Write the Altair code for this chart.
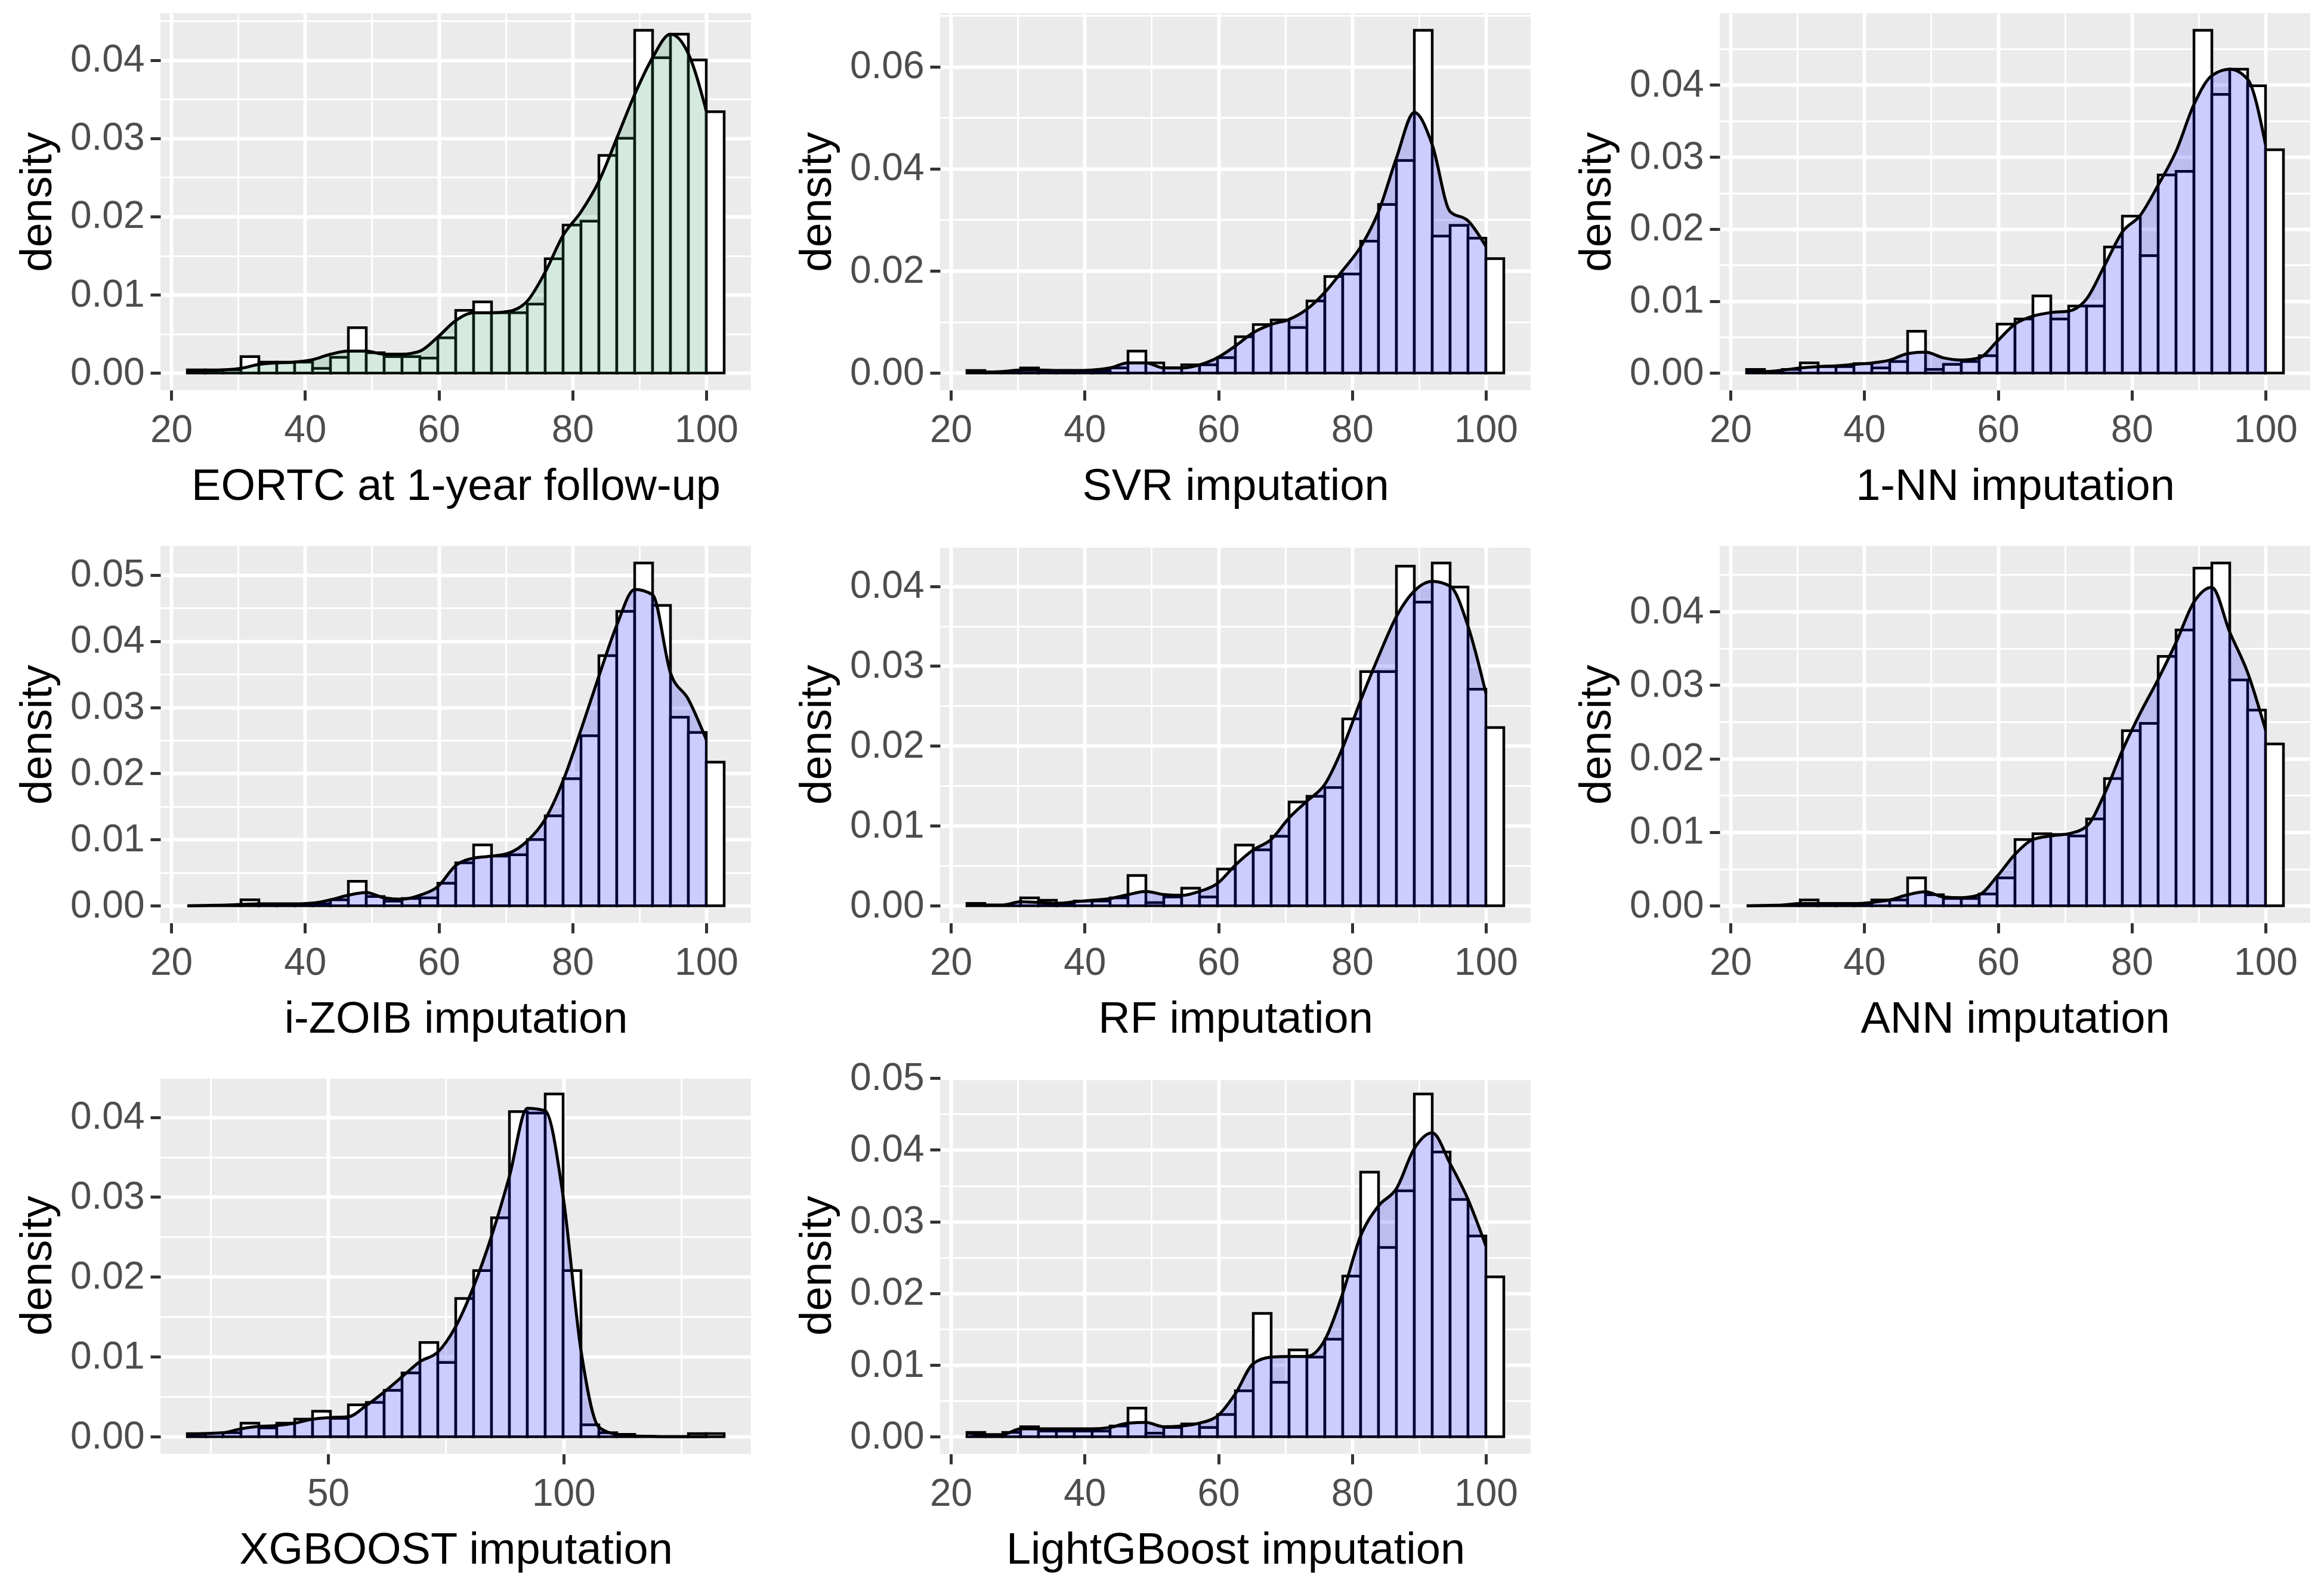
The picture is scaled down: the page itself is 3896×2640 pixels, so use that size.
import math
import altair as alt
import pandas as pd

FONT = "Liberation Sans"

# ---- data (density values in units of 0.001) ----
titles = [
    "EORTC at 1-year follow-up", "SVR imputation", "1-NN imputation",
    "i-ZOIB imputation", "RF imputation", "ANN imputation",
    "XGBOOST imputation", "LightGBoost imputation",
]

# histogram bin layout: first edge and bin width (30 bins each)
bin_lo = [22.4, 22.4, 22.4, 22.4, 22.4, 22.4, 20.1, 22.4]
bin_w = [2.676, 2.676, 2.676, 2.676, 2.676, 2.676, 3.8, 2.676]

bars_eortc = [0.4, 0.4, 0.4, 2.1, 1.4, 1.4, 1.4, 0.6, 2.0, 5.8, 2.6, 2.1, 2.1, 1.9, 4.5,
              8.0, 9.1, 7.7, 7.7, 8.8, 14.6, 18.9, 19.4, 27.8, 30.0, 43.8, 40.3, 43.3, 40.0, 33.4]
dens_eortc = [0.2, 0.3, 0.4, 0.6, 1.1, 1.3, 1.4, 1.7, 2.4, 2.8, 2.8, 2.4, 2.4, 2.8, 4.6,
              6.7, 7.7, 7.7, 7.9, 9.2, 12.9, 17.6, 20.6, 24.5, 30.0, 35.6, 40.3, 43.3, 40.8, 33.5]

bars_svr = [0.5, 0, 0.1, 1.0, 0.4, 0.4, 0.4, 0.4, 1.0, 4.3, 2.0, 1.0, 1.6, 1.6, 3.0,
            7.1, 9.5, 10.4, 8.9, 14.1, 18.9, 19.4, 25.8, 33.0, 41.6, 67.1, 26.8, 28.9, 26.4, 22.4]
dens_svr = [0.3, 0.2, 0.3, 0.6, 0.6, 0.5, 0.5, 0.6, 1.0, 2.0, 2.0, 1.0, 1.0, 1.6, 3.0,
            5.3, 7.9, 9.5, 10.5, 12.5, 15.8, 20.1, 24.7, 31.6, 42.1, 51.0, 44.7, 31.6, 29.8, 24.8]

bars_nn = [0.5, 0, 0.5, 1.4, 0.9, 0.9, 1.3, 0.7, 1.6, 5.8, 0.5, 1.2, 1.6, 2.4, 6.8,
           7.5, 10.7, 7.5, 9.3, 9.3, 17.5, 21.8, 16.3, 27.5, 28.0, 47.6, 38.7, 42.2, 39.9, 31.0]
dens_nn = [0.4, 0.2, 0.4, 0.7, 0.9, 1.0, 1.2, 1.4, 1.8, 2.7, 2.9, 2.1, 1.8, 2.1, 4.4,
           6.8, 7.9, 8.4, 8.6, 10.3, 14.9, 19.6, 21.9, 26.1, 30.8, 37.3, 41.3, 42.2, 40.8, 31.7]

bars_zoib = [0, 0, 0, 0.9, 0.2, 0.2, 0.2, 0.3, 0.9, 3.7, 1.4, 0.7, 1.1, 1.2, 3.4,
             6.5, 9.2, 7.5, 7.7, 10.0, 13.6, 19.2, 25.7, 37.8, 44.5, 51.8, 45.4, 28.5, 26.2, 21.7]
dens_zoib = [0.0, 0.05, 0.1, 0.2, 0.3, 0.3, 0.3, 0.4, 0.9, 1.6, 2.0, 1.2, 1.0, 1.6, 2.9,
             6.1, 7.2, 7.5, 8.0, 9.8, 13.1, 18.9, 26.6, 34.7, 42.4, 47.8, 47.0, 35.2, 31.2, 25.1]

bars_rf = [0.3, 0, 0, 1.0, 0.7, 0.3, 0.6, 0.6, 1.0, 3.8, 0.4, 1.1, 2.2, 1.1, 4.6,
           7.6, 7.0, 8.7, 13.0, 13.7, 14.8, 23.4, 29.3, 29.3, 42.5, 38.0, 42.9, 39.9, 27.1, 22.3]
dens_rf = [0.2, 0.1, 0.1, 0.5, 0.4, 0.3, 0.5, 0.7, 0.9, 1.4, 1.8, 1.4, 1.3, 1.8, 2.8,
           5.1, 7.0, 8.3, 11.0, 13.1, 15.2, 19.8, 25.7, 31.2, 36.2, 39.4, 40.6, 40.0, 35.0, 26.6]

bars_ann = [0, 0, 0, 0.8, 0.2, 0.2, 0.2, 0.8, 0.8, 3.8, 1.5, 1.0, 1.0, 1.6, 3.8,
            9.0, 9.8, 9.7, 9.5, 11.8, 17.3, 23.8, 24.8, 33.9, 37.5, 45.9, 46.6, 30.7, 26.6, 22.0]
dens_ann = [0.0, 0.05, 0.1, 0.3, 0.3, 0.3, 0.3, 0.45, 0.8, 1.5, 1.9, 1.2, 1.1, 1.5, 4.0,
            7.0, 9.0, 9.5, 9.8, 10.8, 15.2, 21.1, 26.2, 30.8, 35.8, 41.3, 43.3, 37.2, 31.7, 23.9]

bars_xgb = [0.4, 0, 0.5, 1.7, 1.1, 1.7, 2.2, 3.2, 2.3, 4.0, 4.3, 5.8, 8.0, 11.8, 9.3,
            17.3, 20.8, 27.4, 40.7, 40.5, 42.9, 20.8, 1.5, 0.5, 0.3, 0, 0, 0, 0.4, 0.4]
dens_xgb = [0.3, 0.4, 0.5, 1.0, 1.3, 1.4, 1.7, 2.2, 2.4, 2.5, 3.9, 5.6, 7.5, 9.4, 10.6,
            13.8, 18.8, 25.1, 32.6, 41.1, 40.8, 30.1, 10.8, 1.2, 0.3, 0.1, 0.05, 0.02, 0.02, 0.02]

bars_lgb = [0.6, 0, 0.6, 1.4, 0.8, 0.8, 0.8, 0.8, 1.5, 4.0, 0.5, 1.3, 1.8, 1.3, 3.1,
            6.4, 17.2, 7.6, 12.1, 11.1, 13.6, 22.4, 36.9, 26.4, 34.3, 47.8, 39.7, 33.1, 28.0, 22.3]
dens_lgb = [0.5, 0.3, 0.3, 1.1, 1.1, 1.1, 1.1, 1.1, 1.3, 1.9, 2.0, 1.4, 1.5, 1.9, 2.9,
            6.0, 10.2, 11.1, 11.2, 11.2, 13.5, 20.0, 28.0, 32.2, 34.6, 40.2, 42.4, 38.1, 33.1, 26.6]

all_bars = [bars_eortc, bars_svr, bars_nn, bars_zoib, bars_rf, bars_ann, bars_xgb, bars_lgb]
all_dens = [dens_eortc, dens_svr, dens_nn, dens_zoib, dens_rf, dens_ann, dens_xgb, dens_lgb]

x_major_step = [20, 20, 20, 20, 20, 20, 50, 20]
y_major_step = [0.01, 0.02, 0.01, 0.01, 0.01, 0.01, 0.01, 0.01]
fills = ["#289660"] + ["#0000FF"] * 7

# ---- styling ----
W, H = 990, 632
TICK_FS, TITLE_FS = 64, 74
GRID_MAJ, GRID_MIN = 6, 3


def tick_values(lo, hi, step):
    half = step / 2.0
    k = math.ceil(lo / half - 1e-9)
    vals = []
    while k * half <= hi + 1e-12:
        vals.append(round(k * half, 6))
        k += 1
    return vals


def major_test(step):
    return f"abs(datum.value / {step} - round(datum.value / {step})) < 1e-6"


def panel(i):
    lo, w = bin_lo[i], bin_w[i]
    bars, dens = all_bars[i], all_dens[i]
    n = len(bars)
    edges = [lo + k * w for k in range(n + 1)]
    bdf = pd.DataFrame({"x": edges[:-1], "x2": edges[1:],
                        "y": [b / 1000 for b in bars], "z": 0.0})
    ddf = pd.DataFrame({"x": edges[:n], "y": [d / 1000 for d in dens], "z": 0.0})
    span = edges[-1] - edges[0]
    xd = [edges[0] - 0.05 * span, edges[-1] + 0.05 * span]
    ymax = max(bdf["y"].max(), ddf["y"].max())
    yd = [-0.05 * ymax, 1.05 * ymax]

    xt = major_test(x_major_step[i])
    yt = major_test(y_major_step[i])

    common = dict(
        grid=True, gridColor="white",
        domain=False,
        tickColor="#333333", tickWidth=5, tickSize=17,
        labelFont=FONT, labelColor="#4D4D4D",
        labelOverlap=False, labelBound=False, labelFlush=False,
        titleFont=FONT, titleFontSize=TITLE_FS, titleFontWeight="normal",
        titleColor="black",
    )
    xaxis = alt.Axis(
        values=tick_values(xd[0], xd[1], x_major_step[i]),
        title=titles[i],
        labelExpr=f"({xt}) ? format(datum.value, 'd') : ''",
        labelFontSize={"condition": {"test": xt, "value": TICK_FS}, "value": 0},
        gridWidth={"condition": {"test": xt, "value": GRID_MAJ}, "value": GRID_MIN},
        tickOpacity={"condition": {"test": xt, "value": 1}, "value": 0},
        labelPadding=18, titlePadding=26,
        **common,
    )
    yaxis = alt.Axis(
        values=tick_values(yd[0], yd[1], y_major_step[i]),
        title="density",
        labelExpr=f"({yt}) ? format(datum.value, '.2f') : ''",
        labelFontSize={"condition": {"test": yt, "value": TICK_FS}, "value": 0},
        gridWidth={"condition": {"test": yt, "value": GRID_MAJ}, "value": GRID_MIN},
        tickOpacity={"condition": {"test": yt, "value": 1}, "value": 0},
        labelPadding=10, titlePadding=16,
        **common,
    )
    xenc = alt.X("x:Q", scale=alt.Scale(domain=xd, nice=False, zero=False), axis=xaxis)
    yenc = alt.Y("y:Q", scale=alt.Scale(domain=yd, nice=False, zero=False), axis=yaxis)

    hist = alt.Chart(bdf).mark_rect(fill="white", stroke="black", strokeWidth=4.5).encode(
        x=xenc, x2="x2:Q", y=yenc, y2="z:Q")
    area = alt.Chart(ddf).mark_area(fill=fills[i], fillOpacity=0.2,
                                    interpolate="monotone").encode(
        x=xenc, y=yenc, y2="z:Q")
    line = alt.Chart(ddf).mark_line(color="black", strokeWidth=5,
                                    interpolate="monotone").encode(x=xenc, y=yenc)
    return alt.layer(hist, area, line).properties(width=W, height=H)


panels = [panel(i) for i in range(8)]
row1 = alt.hconcat(panels[0], panels[1], panels[2], spacing=74)
row2 = alt.hconcat(panels[3], panels[4], panels[5], spacing=74)
row3 = alt.hconcat(panels[6], panels[7], spacing=74)

chart = alt.vconcat(alt.vconcat(row1, row2, spacing=63), row3, spacing=30).properties(
    padding={"left": 18, "top": 14, "right": 5, "bottom": 5},
    background="white",
).configure_view(fill="#EBEBEB", strokeWidth=0)

chart.save("out.html", embed_options={"renderer": "svg", "actions": False})
